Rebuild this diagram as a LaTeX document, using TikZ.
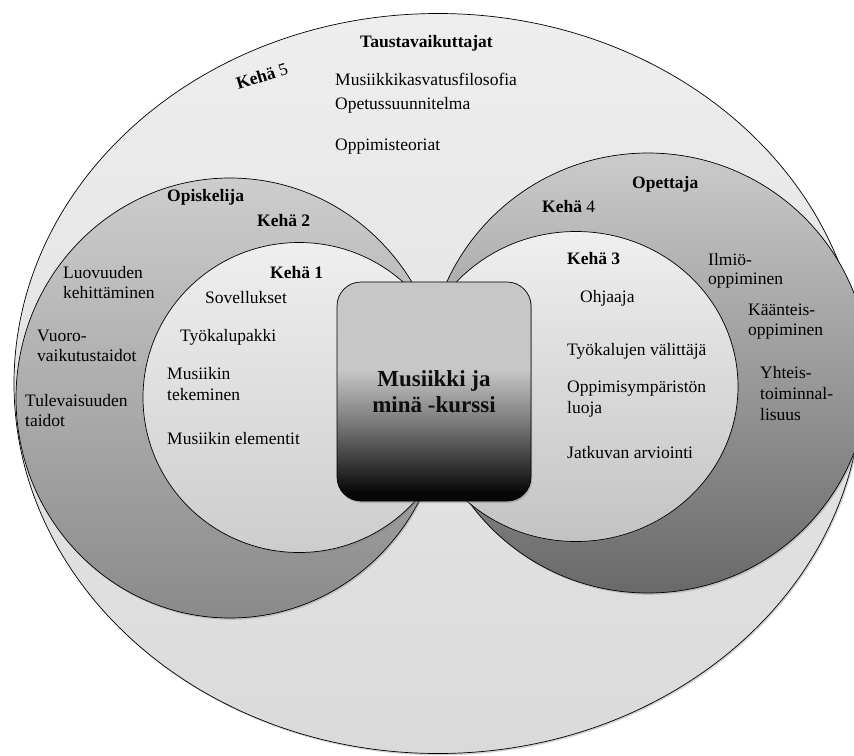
\documentclass[tikz,border=0pt]{standalone}
\usepackage{fontspec}
\setmainfont{Liberation Serif}
\usetikzlibrary{shadows}
\pgfdeclareverticalshading{boxsh}{100bp}{color(0bp)=(black); color(27bp)=(black!97); color(43bp)=(black!52); color(55bp)=(black!22); color(100bp)=(black!22)}
\definecolor{ringA}{HTML}{EEEEEE}
\definecolor{ringAb}{HTML}{DADADA}
\definecolor{grayL}{HTML}{CDCDCD}
\definecolor{grayLb}{HTML}{8A8A8A}
\definecolor{grayR}{HTML}{CBCBCB}
\definecolor{grayRb}{HTML}{696969}
\definecolor{inL}{HTML}{EFEFEF}
\definecolor{inLb}{HTML}{CDCDCD}
\tikzset{
  ring/.style={draw=black, line width=0.7pt,
    drop shadow={shadow xshift=1.2pt, shadow yshift=-1.8pt, opacity=0.35}},
  txt/.style={anchor=base west, inner sep=0pt, font=\fontsize{17.5}{20}\selectfont, text=black},
  lbl/.style={anchor=base west, inner sep=0pt, font=\fontsize{17.5}{20}\selectfont\bfseries, text=black},
  corebox/.style={draw=black, line width=0.7pt, rounded corners=24pt, shading=boxsh,
    minimum width=194pt, minimum height=219pt, align=center, inner sep=0pt,
    font=\fontsize{23}{26}\selectfont\bfseries, text=black!95,
    drop shadow={shadow xshift=1.2pt, shadow yshift=-2pt, opacity=0.4}}
}
\begin{document}
\begin{tikzpicture}[x=1pt,y=-1pt]
\useasboundingbox (0,0) rectangle (854,755);
% Kehä 5
\path[ring, top color=ringA, bottom color=ringAb] (438,383.5) ellipse [x radius=424pt, y radius=370pt];
% Kehä 2 (left outer)
\path[ring, top color=grayL, bottom color=grayLb] (230,398) ellipse [x radius=214pt, y radius=220pt];
% Kehä 1 (left inner)
\path[ring, top color=inL, bottom color=inLb] (299,397.5) ellipse [x radius=156pt, y radius=155pt];
% Kehä 4 (right outer)
\path[ring, top color=grayR, bottom color=grayRb] (648,373) ellipse [x radius=221pt, y radius=220pt];
% Kehä 3 (right inner)
\path[ring, top color=inL, bottom color=inLb!95!black] (576,386.5) ellipse [x radius=162pt, y radius=155pt];
% centre
\node[corebox] (core) at (434,391.5) {Musiikki ja\\minä -kurssi};

% outer texts
\node[lbl] (tausta) at (360,47) {Taustavaikuttajat};
\node[inner sep=0pt, rotate=17, font=\fontsize{17.5}{20}\selectfont] (k5) at (262,76) {\textbf{Kehä}~5};
\node[txt] (t1) at (335,85) {Musiikkikasvatusfilosofia};
\node[txt] (t2) at (335,109) {Opetussuunnitelma};
\node[txt] (t3) at (335,150) {Oppimisteoriat};

% left
\node[lbl] (opis) at (167,201) {Opiskelija};
\node[lbl] (k2) at (257,226) {Kehä 2};
\node[lbl] (k1) at (270,278) {Kehä 1};
\node[txt] (l1a) at (63,278) {Luovuuden};
\node[txt] (l1b) at (63,298) {kehittäminen};
\node[txt] (l2a) at (37,341) {Vuoro-};
\node[txt] (l2b) at (37,361) {vaikutustaidot};
\node[txt] (l3a) at (25,406) {Tulevaisuuden};
\node[txt] (l3b) at (25,426) {taidot};
\node[txt] (i1) at (205,303) {Sovellukset};
\node[txt] (i2) at (180,341) {Työkalupakki};
\node[txt] (i3a) at (167,379) {Musiikin};
\node[txt] (i3b) at (167,400) {tekeminen};
\node[txt] (i4) at (167,444) {Musiikin elementit};

% right
\node[lbl] (opet) at (632,188) {Opettaja};
\node[txt] (k4) at (542,212) {\textbf{Kehä} 4};
\node[lbl] (k3) at (567,264) {Kehä 3};
\node[txt] (r1) at (580,302) {Ohjaaja};
\node[txt] (r2) at (567,355) {Työkalujen välittäjä};
\node[txt] (r3a) at (567,392) {Oppimisympäristön};
\node[txt] (r3b) at (567,413) {luoja};
\node[txt] (r4) at (567,458) {Jatkuvan arviointi};
\node[txt] (o1a) at (708,265) {Ilmiö-};
\node[txt] (o1b) at (708,284) {oppiminen};
\node[txt] (o2a) at (748,315) {Käänteis-};
\node[txt] (o2b) at (748,335) {oppiminen};
\node[txt] (o3a) at (760,378) {Yhteis-};
\node[txt] (o3b) at (760,399) {toiminnal-};
\node[txt] (o3c) at (760,420) {lisuus};
\end{tikzpicture}
\end{document}
